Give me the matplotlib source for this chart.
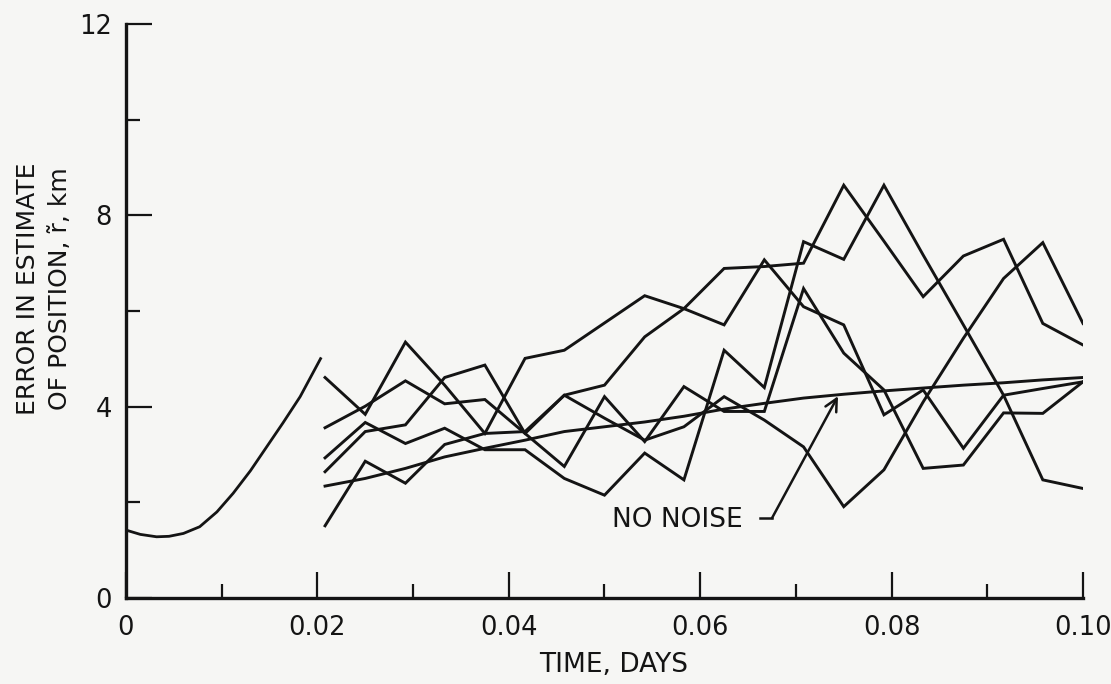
import matplotlib
matplotlib.use("Agg")
import matplotlib.pyplot as plt
from matplotlib.ticker import MultipleLocator

plt.rcParams['font.family'] = ['DejaVu Sans']

# sample times of the filtered runs (days)
t_days = [0.0208, 0.0250, 0.0292, 0.0333, 0.0375, 0.0417, 0.0458, 0.0500, 0.0542, 0.0583,
          0.0625, 0.0667, 0.0708, 0.0750, 0.0792, 0.0833, 0.0875, 0.0917, 0.0958, 0.1000]

# five noisy runs, position error in km
run_a = [4.61, 3.84, 5.35, 4.45, 3.44, 5.01, 5.18, 5.75, 6.32, 6.05,
         6.89, 6.93, 7.00, 8.63, 7.46, 6.30, 7.15, 7.50, 5.74, 5.29]
run_b = [3.56, 4.01, 4.54, 4.06, 4.15, 3.44, 4.24, 4.45, 5.46, 6.05,
         5.71, 7.07, 6.09, 5.71, 3.83, 4.35, 3.13, 4.24, 4.38, 4.52]
run_c = [2.93, 3.67, 3.23, 3.55, 3.10, 3.10, 2.50, 2.15, 3.03, 2.47,
         5.18, 4.40, 7.45, 7.08, 8.63, 7.17, 5.71, 4.24, 2.47, 2.29]
run_d = [2.64, 3.48, 3.62, 4.61, 4.87, 3.44, 2.75, 4.21, 3.27, 4.42,
         3.90, 3.90, 6.47, 5.12, 4.35, 2.71, 2.78, 3.87, 3.86, 4.52]
run_e = [1.51, 2.86, 2.40, 3.21, 3.44, 3.48, 4.24, 3.76, 3.30, 3.58,
         4.21, 3.72, 3.16, 1.91, 2.68, 4.10, 5.43, 6.68, 7.43, 5.74]
runs = [run_a, run_b, run_c, run_d, run_e]

# noise-free run
no_noise = [2.34, 2.50, 2.71, 2.95, 3.13, 3.30, 3.48, 3.58, 3.68, 3.80,
            3.95, 4.07, 4.18, 4.26, 4.33, 4.39, 4.45, 4.50, 4.56, 4.61]

# initial transient before the first measurement
t_init = [0.0, 0.0015, 0.0032, 0.0045, 0.0060, 0.0077, 0.0095, 0.0112, 0.0130, 0.0147,
          0.0164, 0.0182, 0.0204]
err_init = [1.42, 1.33, 1.28, 1.29, 1.35, 1.49, 1.80, 2.19, 2.66, 3.16, 3.66, 4.21, 5.03]

ink = '#141414'
paper = '#f6f6f4'

fig = plt.figure(figsize=(11.11, 6.84), dpi=100, facecolor=paper)
ax = fig.add_axes([0.1134, 0.1257, 0.8614, 0.8392])
ax.set_facecolor(paper)

ax.plot(t_init, err_init, color=ink, lw=2.0, solid_capstyle='butt')
for r in runs:
    ax.plot(t_days, r, color=ink, lw=2.1, solid_joinstyle='miter')
ax.plot(t_days, no_noise, color=ink, lw=2.1)

ax.text(0.0508, 1.63, 'NO NOISE', fontsize=19, color=ink, ha='left', va='center')
ax.plot([0.06625, 0.0675], [1.67, 1.67], color=ink, lw=1.8)
ax.annotate('', xy=(0.0744, 4.22), xytext=(0.0675, 1.67),
            arrowprops=dict(arrowstyle='->', lw=1.8, color=ink, mutation_scale=22,
                            shrinkA=0, shrinkB=0))

ax.set_xlim(0, 0.1)
ax.set_ylim(0, 12)
for s in ['top', 'right']:
    ax.spines[s].set_visible(False)
for s in ['left', 'bottom']:
    ax.spines[s].set_linewidth(2.4)
    ax.spines[s].set_color(ink)

ax.xaxis.set_major_locator(MultipleLocator(0.02))
ax.xaxis.set_minor_locator(MultipleLocator(0.01))
ax.yaxis.set_major_locator(MultipleLocator(4))
ax.yaxis.set_minor_locator(MultipleLocator(2))
ax.set_xticks([0, 0.02, 0.04, 0.06, 0.08, 0.10])
ax.set_xticklabels(['0', '0.02', '0.04', '0.06', '0.08', '0.10'])
ax.set_yticks([0, 4, 8, 12])
ax.set_yticklabels(['0', '4', '8', '12'])
ax.tick_params(which='major', direction='in', length=19, width=1.6, color=ink,
               labelsize=18.5, labelcolor=ink)
ax.tick_params(which='minor', direction='in', length=10, width=1.6, color=ink)
ax.tick_params(axis='x', which='major', pad=12)
ax.tick_params(axis='y', which='major', pad=10)

fig.text(0.552, 0.028, 'TIME, DAYS', fontsize=19, color=ink, ha='center', va='center')
fig.text(0.025, 0.578, 'ERROR IN ESTIMATE', fontsize=18, color=ink, rotation=90,
         ha='center', va='center')
fig.text(0.054, 0.578, 'OF POSITION, r\u0303, km', fontsize=18, color=ink, rotation=90,
         ha='center', va='center')

fig.savefig('out.png', dpi=100, facecolor=paper)
